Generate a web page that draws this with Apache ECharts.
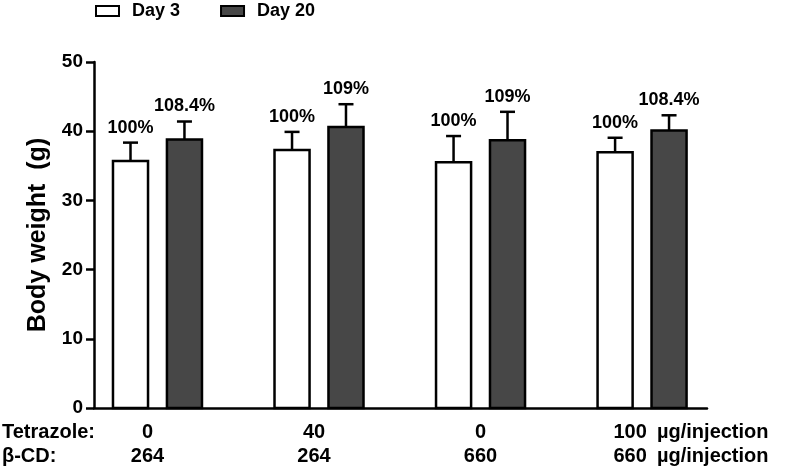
<!DOCTYPE html>
<html>
<head>
<meta charset="utf-8">
<script src="https://cdn.jsdelivr.net/npm/echarts@6/dist/echarts.min.js"></script>
<style>
  html, body { margin: 0; padding: 0; background: #fff; }
  #chart { width: 789px; height: 472px; }
</style>
</head>
<body>
<div id="chart"></div>
<script>
// 数据
var tetrazole = ['0', '40', '0', '100'];
var betaCD = ['264', '264', '660', '660'];
var day3 = [35.7, 37.3, 35.5, 36.95];
var day3Err = [2.65, 2.6, 3.8, 2.1];
var day3Pct = ['100%', '100%', '100%', '100%'];
var day20 = [38.8, 40.6, 38.7, 40.1];
var day20Err = [2.6, 3.3, 4.1, 2.2];
var day20Pct = ['108.4%', '109%', '109%', '108.4%'];
var yTicks = [0, 10, 20, 30, 40, 50];

var FONT = '"Liberation Sans", Arial, sans-serif';
// 底部标签向左的偏移量（像素）
var labelShift = [10, 5, 0, 12];

function makeData(vals, errs) {
    return vals.map(function (v, i) { return [i, v, errs[i]]; });
}

// 每组两根柱子，用 custom 画（柱子 + 误差线 + 百分比）
function makeRender(side, fill, pcts) {
    return function (params, api) {
        var x = api.value(0), v = api.value(1), e = api.value(2);
        var unit = api.size([1, 0])[0];
        var base = api.coord([x, 0]);
        var top = api.coord([x, v]);
        var cap = api.coord([x, v + e]);
        var cx = base[0] + side * 0.167 * unit;
        var w = 0.217 * unit;
        var line = { stroke: '#000', lineWidth: 2.5 };
        return {
            type: 'group',
            children: [
                { type: 'line', shape: { x1: cx, y1: top[1], x2: cx, y2: cap[1] }, style: line },
                { type: 'line', shape: { x1: cx - 7.5, y1: cap[1], x2: cx + 7.5, y2: cap[1] }, style: line },
                {
                    type: 'rect',
                    shape: { x: cx - w / 2, y: top[1], width: w, height: base[1] - top[1] },
                    style: { fill: fill, stroke: '#000', lineWidth: 2.5 }
                },
                {
                    type: 'text',
                    style: {
                        text: pcts[params.dataIndex], x: cx, y: cap[1] - 6,
                        align: 'center', verticalAlign: 'bottom',
                        font: 'bold 18px ' + FONT, fill: '#000'
                    }
                }
            ]
        };
    };
}

var rich = {};
labelShift.forEach(function (s, i) {
    rich['g' + i] = {
        fontFamily: FONT, fontWeight: 'bold', fontSize: 20, color: '#000',
        lineHeight: 24, padding: [0, s * 2, 0, 0]
    };
});

var myChart = echarts.init(document.getElementById('chart'));

var option = {
    backgroundColor: '#fff',
    animation: false,
    legend: {
        left: 95,
        top: 2,
        padding: 0,
        icon: 'rect',
        itemWidth: 23,
        itemHeight: 10,
        itemGap: 40,
        textStyle: { fontFamily: FONT, fontWeight: 'bold', fontSize: 18, color: '#000', padding: [0, 0, 0, 8] },
        data: [
            { name: 'Day 3', itemStyle: { color: '#fff', borderColor: '#000', borderWidth: 2 } },
            { name: 'Day 20', itemStyle: { color: '#474747', borderColor: '#000', borderWidth: 2 } }
        ]
    },
    grid: { left: 94, right: 82, top: 62, bottom: 64 },
    xAxis: {
        type: 'value',
        min: -0.393,
        max: 3.402,
        splitLine: { show: false },
        axisTick: { show: false },
        axisLine: { lineStyle: { color: '#000', width: 2.5 } },
        axisLabel: {
            customValues: [0, 1, 2, 3],
            margin: 12,
            lineHeight: 24,
            fontFamily: FONT,
            fontWeight: 'bold',
            fontSize: 20,
            color: '#000',
            rich: rich,
            formatter: function (v) {
                return '{g' + v + '|' + tetrazole[v] + '}\n{g' + v + '|' + betaCD[v] + '}';
            }
        }
    },
    yAxis: {
        type: 'value',
        min: yTicks[0],
        max: yTicks[yTicks.length - 1],
        interval: 10,
        name: 'Body weight  (g)',
        nameLocation: 'middle',
        nameRotate: 90,
        nameGap: 34,
        nameTextStyle: { fontFamily: FONT, fontWeight: 'bold', fontSize: 25, color: '#000' },
        splitLine: { show: false },
        axisLine: { show: true, onZero: false, lineStyle: { color: '#000', width: 2.5 } },
        axisTick: { show: true, length: 8, lineStyle: { color: '#000', width: 2.5 } },
        axisLabel: { margin: 11, fontFamily: FONT, fontWeight: 'bold', fontSize: 19, color: '#000' }
    },
    graphic: [
        { type: 'text', left: 2, top: 422, style: { text: 'Tetrazole:', font: 'bold 20px ' + FONT, fill: '#000' } },
        { type: 'text', left: 2, top: 446, style: { text: 'β-CD:', font: 'bold 20px ' + FONT, fill: '#000' } },
        { type: 'text', left: 657, top: 422, style: { text: 'µg/injection', font: 'bold 20px ' + FONT, fill: '#000' } },
        { type: 'text', left: 657, top: 446, style: { text: 'µg/injection', font: 'bold 20px ' + FONT, fill: '#000' } }
    ],
    series: [
        {
            name: 'Day 3',
            type: 'custom',
            itemStyle: { color: '#fff', borderColor: '#000' },
            renderItem: makeRender(-1, '#fff', day3Pct),
            encode: { x: 0, y: [1, 2] },
            data: makeData(day3, day3Err)
        },
        {
            name: 'Day 20',
            type: 'custom',
            itemStyle: { color: '#474747', borderColor: '#000' },
            renderItem: makeRender(1, '#474747', day20Pct),
            encode: { x: 0, y: [1, 2] },
            data: makeData(day20, day20Err)
        }
    ]
};

myChart.setOption(option);
</script>
</body>
</html>
